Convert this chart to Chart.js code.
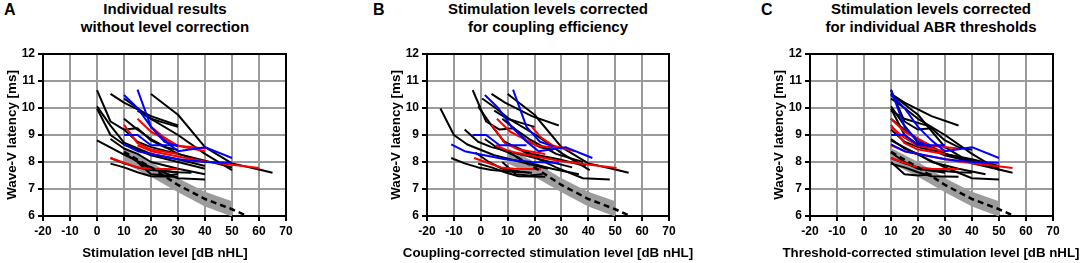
<!DOCTYPE html>
<html><head><meta charset="utf-8">
<script src="https://cdn.jsdelivr.net/npm/chart.js@4.4.1/dist/chart.umd.min.js"></script>
<style>
body{margin:0;background:#fff;width:1084px;height:263px;overflow:hidden;position:relative;font-family:"Liberation Sans",Arial,sans-serif;color:#000}
.panel{position:absolute;top:0;width:300px;height:263px}
.letter{position:absolute;top:0;font-weight:bold;font-size:16px;line-height:20px}
.title{position:absolute;top:0;font-weight:bold;font-size:15px;line-height:18px;text-align:center;width:400px;white-space:nowrap}
.xt{position:absolute;top:245px;font-weight:bold;font-size:13.3px;line-height:16px;text-align:center;width:400px;white-space:nowrap}
</style></head><body>
<div class="letter" style="left:4px">A</div>
<div class="letter" style="left:373px">B</div>
<div class="letter" style="left:761px">C</div>
<div class="title" style="left:-35px">Individual results<br>without level correction</div>
<div class="title" style="left:348px">Stimulation levels corrected<br>for coupling efficiency</div>
<div class="title" style="left:731px">Stimulation levels corrected<br>for individual ABR thresholds</div>
<div class="panel" style="left:0px"><canvas id="cA" width="300" height="263"></canvas></div>
<div class="panel" style="left:384px"><canvas id="cB" width="300" height="263"></canvas></div>
<div class="panel" style="left:767px"><canvas id="cC" width="300" height="263"></canvas></div>
<div class="xt" id="xtA" style="left:-35px"></div>
<div class="xt" id="xtB" style="left:348px"></div>
<div class="xt" id="xtC" style="left:731px"></div>
<script>
// ---- data ----
const xTicks = [-20, -10, 0, 10, 20, 30, 40, 50, 60, 70];
const yTicks = [6, 7, 8, 9, 10, 11, 12];
const xTitles = ["Stimulation level [dB nHL]", "Coupling-corrected stimulation level [dB nHL]", "Threshold-corrected stimulation level [dB nHL]"];
const yTitle = "Wave-V latency [ms]";

// normative reference (mean dashed line, gray range band)
const normLevels = [10, 20, 30, 40, 50, 56];
const normMean = [8.38, 7.8, 7.15, 6.63, 6.25, 5.98];
const bandLevels = [10, 20, 30, 40, 50];
const bandUpper = [8.52, 8.0, 7.4, 6.9, 6.55];
const bandLower = [7.95, 7.45, 6.88, 6.35, 5.98];

// individual ears: k = black, r = red, b = blue
const subjectColor = ["k","k","k","k","k","k","k","k","k","k","k","k","k","k","k","r","r","r","r","r","b","b","b","b"];
const latencies = [
  [10.66, 9.5, 9.2, 9.25, 8.8, 8.55, 8.45],
  [10.06, 9.35, 8.72, 8.3, 8.1, 7.85],
  [9.98, 9.0, 8.65, 8.25, 8.0, 7.75],
  [8.8, 8.27, 7.8, 7.4, 7.35],
  [10.52, 10.2, 9.95, 9.7, 9.35],
  [8.85, 8.5, 8.3, 8.0, 7.75, 7.55],
  [8.15, 7.95, 7.8, 7.7, 7.62, 7.6],
  [7.94, 7.8, 7.62, 7.47, 7.45],
  [10.52, 9.75, 8.55, 7.95, 7.72, 7.6],
  [10.35, 10.0, 9.6, 9.0, 8.3, 7.7],
  [9.2, 8.75, 8.55, 8.3, 8.05, 7.8],
  [9.9, 9.6, 9.45, 9.3],
  [8.35, 8.0, 7.75, 7.6],
  [8.0, 7.55, 7.5, 7.55],
  [9.6, 9.2, 8.85, 8.3, 8.0],
  [9.38, 8.7, 8.46, 8.3],
  [9.6, 9.12, 8.6, 8.5],
  [8.62, 8.4, 8.2, 8.02, 7.9, 7.78],
  [8.15, 7.97, 7.8, 7.75, 7.73],
  [9.3, 8.9, 8.6, 8.4],
  [10.48, 10.0, 9.3, 8.8, 8.4, 8.55, 8.15],
  [10.68, 9.3, 8.75, 8.58],
  [9.0, 9.0, 8.62, 8.62],
  [8.65, 8.4, 8.3, 8.1, 8.0, 7.97]
];
const levelsA = [
  [0, 5, 10, 15, 20, 25, 30],
  [0, 5, 10, 20, 30, 40],
  [0, 5, 10, 20, 30, 40],
  [0, 10, 20, 30, 40],
  [5, 10, 15, 20, 30],
  [5, 10, 15, 20, 30, 40],
  [5, 10, 15, 20, 30, 35],
  [5, 10, 15, 20, 30],
  [20, 30, 40, 50, 60, 65],
  [10, 15, 20, 30, 40, 50],
  [10, 15, 20, 30, 40, 50],
  [15, 20, 25, 30],
  [10, 15, 20, 30],
  [15, 20, 25, 30],
  [10, 15, 20, 30, 40],
  [10, 15, 20, 30],
  [15, 20, 30, 40],
  [15, 20, 30, 40, 50, 60],
  [5, 10, 15, 20, 30],
  [20, 25, 30, 40],
  [10, 15, 20, 25, 30, 40, 50],
  [15, 20, 25, 30],
  [10, 15, 20, 30],
  [10, 15, 20, 30, 40, 50]
];
const levelsB = [
  [-3, 2, 7, 12, 17, 22, 27],
  [-1, 4, 9, 19, 29, 39],
  [-15, -10, -5, 5, 15, 25],
  [8, 18, 28, 38, 48],
  [4, 9, 14, 19, 29],
  [1.5, 6.5, 11.5, 16.5, 26.5, 36.5],
  [-11, -6, -1, 4, 14, 19],
  [-1, 4, 9, 14, 24],
  [10, 20, 30, 40, 50, 55],
  [0.5, 5.5, 10.5, 20.5, 30.5, 40.5],
  [-6, -1, 4, 14, 24, 34],
  [5, 10, 15, 20],
  [-2, 3, 8, 18],
  [8, 13, 18, 23],
  [8, 13, 18, 28, 38],
  [4, 9, 14, 24],
  [6, 11, 21, 31],
  [5.5, 10.5, 20.5, 30.5, 40.5, 50.5],
  [-2.5, 2.5, 7.5, 12.5, 22.5],
  [19, 22.5, 27, 35],
  [1.5, 6.5, 11.5, 16.5, 21.5, 31.5, 41.5],
  [12, 17, 22, 27],
  [-3, 2, 7, 17],
  [-11, -6, -1, 9, 19, 29]
];
const levelsC = [
  [10, 15, 20, 25, 30, 35, 40],
  [10, 15, 20, 30, 40, 50],
  [10, 15, 20, 30, 40, 50],
  [10, 20, 30, 40, 50],
  [10, 15, 20, 25, 35],
  [10, 15, 20, 25, 35, 45],
  [10, 15, 20, 25, 35, 40],
  [10, 15, 20, 25, 35],
  [10, 20, 30, 40, 50, 55],
  [10, 15, 20, 30, 40, 50],
  [10, 15, 20, 30, 40, 50],
  [10, 15, 20, 25],
  [10, 15, 20, 30],
  [10, 15, 20, 25],
  [10, 15, 20, 30, 40],
  [10, 15, 20, 30],
  [10, 15, 25, 35],
  [10, 15, 25, 35, 45, 55],
  [10, 15, 20, 25, 35],
  [10, 15, 20, 30],
  [10, 15, 20, 25, 30, 40, 50],
  [10, 15, 20, 25],
  [10, 15, 20, 30],
  [10, 15, 20, 30, 40, 50]
];

// ---- styles ----
const colorMap = { k: "#000000", r: "#ff0000", b: "#0000ff" };
const orderMap = { k: 3, r: 2, b: 1 };
const FONT = "'Liberation Sans', Arial, sans-serif";

document.getElementById("xtA").textContent = xTitles[0];
document.getElementById("xtB").textContent = xTitles[1];
document.getElementById("xtC").textContent = xTitles[2];

function pts(xs, ys) { return xs.map((x, i) => ({ x: x, y: ys[i] })); }

const framePlugin = {
  id: "frame",
  beforeDatasetsDraw(chart) {
    const { ctx, chartArea: a } = chart;
    ctx.save();
    ctx.strokeStyle = "#000";
    ctx.lineWidth = 2;
    ctx.strokeRect(a.left, a.top, a.right - a.left, a.bottom - a.top);
    ctx.restore();
  }
};

function makeChart(id, levels, padRight) {
  const datasets = [
    { data: pts(bandLevels, bandLower), borderWidth: 0, pointRadius: 0, fill: false, order: 5, borderColor: "rgba(0,0,0,0)" },
    { data: pts(bandLevels, bandUpper), borderWidth: 0, pointRadius: 0, fill: "-1", backgroundColor: "#9c9c9c", order: 4, borderColor: "rgba(0,0,0,0)" }
  ];
  latencies.forEach((lat, i) => {
    const c = subjectColor[i];
    datasets.push({ data: pts(levels[i], lat), borderColor: colorMap[c], borderWidth: 2, pointRadius: 0, fill: false, order: orderMap[c], borderJoinStyle: "round", tension: 0 });
  });
  datasets.push({ data: pts(normLevels, normMean), borderColor: "#000", borderWidth: 2.5, borderDash: [6, 4], pointRadius: 0, fill: false, order: 0 });

  return new Chart(document.getElementById(id), {
    type: "line",
    data: { datasets },
    plugins: [framePlugin],
    options: {
      responsive: false, animation: false, devicePixelRatio: 1,
      layout: { padding: { top: 54, right: padRight, left: 0, bottom: 0 } },
      plugins: { legend: { display: false }, tooltip: { enabled: false }, title: { display: false } },
      scales: {
        x: {
          type: "linear", min: -20, max: 70,
          afterBuildTicks: (s) => { s.ticks = xTicks.map(v => ({ value: v })); },
          afterFit: (s) => { s.height = 47; },
          grid: { color: "#9a9a9a", lineWidth: 2, tickColor: "#000", tickLength: 5 },
          border: { color: "#000", width: 2 },
          ticks: { color: "#000", font: { family: FONT, size: 12, weight: "bold" }, padding: 3, maxRotation: 0, autoSkip: false },
          title: { display: false }
        },
        y: {
          type: "linear", min: 6, max: 12,
          afterBuildTicks: (s) => { s.ticks = yTicks.map(v => ({ value: v })); },
          afterFit: (s) => { s.width = 43; },
          grid: { color: "#9a9a9a", lineWidth: 2, tickColor: "#000", tickLength: 5 },
          border: { color: "#000", width: 2 },
          ticks: { color: "#000", font: { family: FONT, size: 12, weight: "bold" }, padding: 3, autoSkip: false },
          title: { display: true, text: yTitle, color: "#000", font: { family: FONT, size: 13.4, weight: "bold" }, padding: { top: 4, bottom: 2 } }
        }
      }
    }
  });
}

makeChart("cA", levelsA, 14);
makeChart("cB", levelsB, 15);
makeChart("cC", levelsC, 14);
</script>
</body></html>
